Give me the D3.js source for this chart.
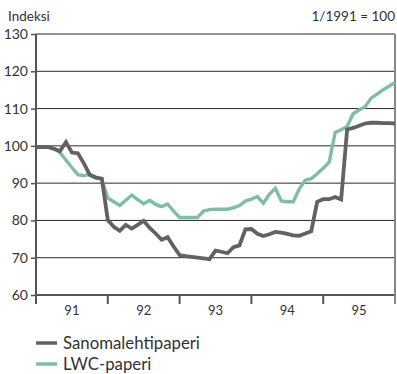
<!DOCTYPE html>
<html>
<head>
<meta charset="utf-8">
<script src="https://cdn.jsdelivr.net/npm/d3@7"></script>
<style>
  html, body { margin: 0; padding: 0; background: #fff; }
  svg text { font-family: Lato, "Open Sans", sans-serif; fill: #333; }
</style>
</head>
<body>
<svg id="chart" width="397" height="374"></svg>
<script>
// Monthly index values, 1/1991 .. 1/1996 (1/1991 = 100)
const years = ["91", "92", "93", "94", "95"];
const yTicks = [60, 70, 80, 90, 100, 110, 120, 130];

const sanomalehtipaperi = [
  99.7, 99.7, 99.7, 99.2, 98.6, 101.0, 98.2, 98.0, 95.3, 92.2, 91.5, 91.2,
  80.1, 78.3, 77.2, 78.8, 77.8, 78.8, 79.9, 78.0, 76.5, 74.8, 75.5, 73.0,
  70.7, 70.4, 70.2, 70.0, 69.8, 69.6, 71.9, 71.6, 71.2, 72.8, 73.3, 77.6,
  77.7, 76.4, 75.8, 76.3, 76.9, 76.7, 76.4, 76.0, 75.9, 76.5, 77.1, 85.0,
  85.7, 85.7, 86.3, 85.6, 104.4, 104.8, 105.4, 106.0, 106.2, 106.2, 106.1, 106.1,
  106.0
];
const lwcPaperi = [
  99.7, 99.7, 99.7, 99.3, 98.2, 96.2, 94.2, 92.3, 92.0, 92.4, 91.6, 91.1,
  86.0, 85.0, 84.0, 85.4, 86.8, 85.6, 84.5, 85.4, 84.3, 83.7, 84.4, 82.5,
  80.8, 80.8, 80.8, 80.8, 82.5, 82.9, 83.0, 83.0, 83.0, 83.4, 84.0, 85.2,
  85.7, 86.4, 84.6, 87.0, 88.6, 85.2, 85.0, 85.0, 88.5, 90.8, 91.2, 92.5,
  94.0, 95.6, 103.6, 104.3, 105.2, 108.6, 109.6, 110.5, 112.8, 113.9, 115.0, 116.0,
  117.0
];

const series = [
  { name: "Sanomalehtipaperi", values: sanomalehtipaperi, color: "#626262", width: 3.8 },
  { name: "LWC-paperi", values: lwcPaperi, color: "#7fbea4", width: 3.4 }
];

const svg = d3.select("#chart");
const plotL = 36, plotR = 395, plotT = 34, plotB = 295;

const x = d3.scaleLinear().domain([0, 60]).range([plotL, plotR]);
const y = d3.scaleLinear().domain([60, 130]).range([plotB, plotT]);

// horizontal grid
svg.append("g").selectAll("line").data(yTicks.filter(d => d > 60)).join("line")
  .attr("x1", plotL).attr("x2", plotR)
  .attr("y1", d => y(d)).attr("y2", d => y(d))
  .attr("stroke", "#2a2a2a").attr("stroke-width", 1);

// y axis
const yAxis = svg.append("g").attr("transform", `translate(${plotL},0)`)
  .call(d3.axisLeft(y).tickValues(yTicks).tickSize(5).tickPadding(3));
yAxis.select(".domain").remove();
yAxis.selectAll(".tick line").attr("stroke", "#555").attr("stroke-width", 1.5);
yAxis.selectAll("text").attr("font-size", 14).attr("fill", "#333")
  .style("font-family", "Lato, 'Open Sans', sans-serif");

// x axis: year boundaries + labels centred in each year
const yearBounds = d3.range(0, 61, 12);
svg.append("line").attr("x1", plotL).attr("x2", plotR)
  .attr("y1", plotB).attr("y2", plotB).attr("stroke", "#555").attr("stroke-width", 2);
svg.append("g").selectAll("line").data(yearBounds).join("line")
  .attr("x1", d => x(d)).attr("x2", d => x(d))
  .attr("y1", d => (d === 0 || d === 60 ? plotT : plotB))
  .attr("y2", plotB + 9)
  .attr("stroke", d => (d === 60 ? "#888" : "#555")).attr("stroke-width", 2);
svg.append("g").selectAll("text").data(years).join("text")
  .attr("x", (d, i) => x(i * 12 + 6)).attr("y", plotB + 20)
  .attr("text-anchor", "middle").attr("font-size", 13).text(d => d);

// lines
const line = d3.line().x((d, i) => x(i)).y(d => y(d));
svg.append("g").selectAll("path").data(series.slice().reverse()).join("path")
  .attr("d", s => line(s.values))
  .attr("fill", "none").attr("stroke", s => s.color)
  .attr("stroke-width", s => s.width).attr("stroke-linejoin", "miter");

// titles
svg.append("text").attr("x", 8).attr("y", 21).attr("font-size", 13.5).text("Indeksi");
svg.append("text").attr("x", 395).attr("y", 21).attr("font-size", 13.5)
  .attr("text-anchor", "end").text("1/1991 = 100");

// legend
const lg = svg.append("g").selectAll("g").data(series).join("g")
  .attr("transform", (d, i) => `translate(36,${343 + i * 21})`);
lg.append("line").attr("x1", 0).attr("x2", 21).attr("y1", 0).attr("y2", 0)
  .attr("stroke", d => d.color).attr("stroke-width", 3.5);
lg.append("text").attr("x", 27).attr("y", 6).attr("font-size", 16.8).text(d => d.name);
</script>
</body>
</html>
